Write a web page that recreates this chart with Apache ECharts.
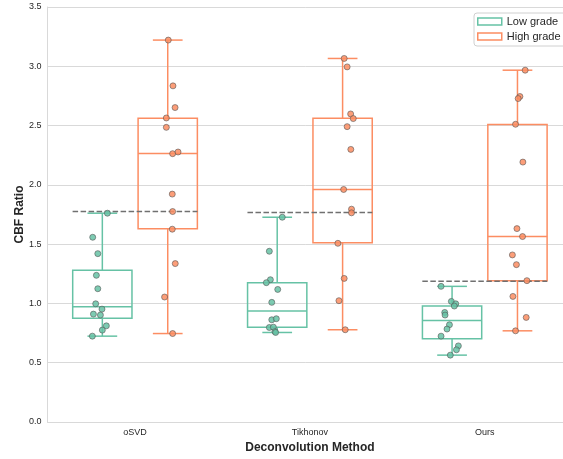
<!DOCTYPE html>
<html>
<head>
<meta charset="utf-8">
<script src="https://cdn.jsdelivr.net/npm/echarts@6/dist/echarts.min.js"></script>
<style>
html,body{margin:0;padding:0;background:#fff;}
#chart{width:563px;height:459px;}
</style>
</head>
<body>
<div id="chart"></div>
<script>
// ---- data ----
const categories = ['oSVD', 'Tikhonov', 'Ours'];
const yTicks = [0, 0.5, 1, 1.5, 2, 2.5, 3, 3.5];

// box stats: [whisker low, Q1, median, Q3, whisker high]
const lowBoxes = [
  [0.724, 0.876, 0.972, 1.279, 1.761],
  [0.755, 0.800, 0.936, 1.175, 1.727],
  [0.564, 0.702, 0.857, 0.978, 1.144]
];
const highBoxes = [
  [0.746, 1.629, 2.265, 2.561, 3.221],
  [0.778, 1.511, 1.961, 2.561, 3.066],
  [0.769, 1.192, 1.564, 2.508, 2.967]
];
// dashed threshold per method
const thresholds = [1.775, 1.766, 1.186];

// individual points (values) and horizontal jitter (in category units)
const lowOSVD = [1.761, 1.558, 1.420, 1.237, 1.124, 0.997, 0.952, 0.910, 0.902, 0.811, 0.775, 0.724];
const lowOSVDJit = [0.029, -0.055, -0.026, -0.034, -0.026, -0.038, -0.002, -0.051, -0.011, 0.023, 0.000, -0.057];
const highOSVD = [3.221, 2.835, 2.652, 2.564, 2.485, 2.263, 2.277, 1.922, 1.775, 1.626, 1.336, 1.054, 0.746];
const highOSVDJit = [0.003, 0.030, 0.042, -0.008, -0.008, 0.028, 0.059, 0.026, 0.028, 0.026, 0.043, -0.018, 0.028];
const lowTikh = [1.727, 1.440, 1.200, 1.175, 1.118, 1.009, 0.862, 0.871, 0.797, 0.800, 0.763, 0.755];
const lowTikhJit = [0.029, -0.045, -0.039, -0.062, 0.003, -0.031, -0.031, -0.005, -0.045, -0.022, -0.013, -0.009];
const highTikh = [3.066, 2.995, 2.598, 2.559, 2.491, 2.299, 1.961, 1.795, 1.764, 1.507, 1.211, 1.023, 0.778];
const highTikhJit = [0.009, 0.026, 0.046, 0.061, 0.026, 0.047, 0.006, 0.051, 0.051, -0.027, 0.009, -0.021, 0.015];
const lowOurs = [1.144, 1.017, 0.997, 0.978, 0.924, 0.902, 0.820, 0.784, 0.724, 0.642, 0.609, 0.564];
const lowOursJit = [-0.063, -0.004, 0.021, 0.013, -0.042, -0.040, -0.015, -0.029, -0.063, 0.036, 0.025, -0.010];
const highOurs = [2.967, 2.745, 2.728, 2.511, 2.192, 1.631, 1.564, 1.409, 1.327, 1.192, 1.059, 0.882, 0.769];
const highOursJit = [0.044, 0.014, 0.004, -0.011, 0.031, -0.003, 0.029, -0.029, -0.006, 0.054, -0.026, 0.050, -0.011];

// ---- styling / layout ----
const LOW_COLOR = '#66c2a5';
const HIGH_COLOR = '#fc8d62';
const OFFSET = 0.187;   // box centre offset from category centre (fraction of band)
const BOX_HALF = 0.1695;
const CAP_HALF = 0.085;
const THR_HALF = 0.357;
const TEXT = '#262626';
const GRIDC = '#d9d9d9';
const FONT = '"Liberation Sans", Arial, sans-serif';

function boxRender(off, color) {
  return function (params, api) {
    const cat = api.value(0);
    const band = api.size([1, 0])[0];
    const cx = api.coord([cat, 0])[0] + off * band;
    const y = [1, 2, 3, 4, 5].map(i => api.coord([cat, api.value(i)])[1]);
    const hw = BOX_HALF * band, ch = CAP_HALF * band;
    const st = { stroke: color, lineWidth: 1.5, fill: null };
    return {
      type: 'group',
      children: [
        { type: 'line', shape: { x1: cx, y1: y[0], x2: cx, y2: y[1] }, style: st },
        { type: 'line', shape: { x1: cx, y1: y[3], x2: cx, y2: y[4] }, style: st },
        { type: 'line', shape: { x1: cx - ch, y1: y[0], x2: cx + ch, y2: y[0] }, style: st },
        { type: 'line', shape: { x1: cx - ch, y1: y[4], x2: cx + ch, y2: y[4] }, style: st },
        { type: 'rect', shape: { x: cx - hw, y: y[3], width: 2 * hw, height: y[1] - y[3] }, style: { stroke: color, lineWidth: 1.5, fill: 'rgba(0,0,0,0)' } },
        { type: 'line', shape: { x1: cx - hw, y1: y[2], x2: cx + hw, y2: y[2] }, style: st }
      ]
    };
  };
}

function thrRender(params, api) {
  const cat = api.value(0);
  const band = api.size([1, 0])[0];
  const p = api.coord([cat, api.value(1)]);
  return {
    type: 'line',
    shape: { x1: p[0] - THR_HALF * band, y1: p[1], x2: p[0] + THR_HALF * band, y2: p[1] },
    style: { stroke: '#707070', lineWidth: 1.5, lineDash: [5.5, 2.5] }
  };
}

function points(vals, jit, cat, sign) {
  return vals.map((v, i) => [cat + sign * OFFSET + jit[i], v]);
}

const lowPts = [].concat(points(lowOSVD, lowOSVDJit, 0, -1), points(lowTikh, lowTikhJit, 1, -1), points(lowOurs, lowOursJit, 2, -1));
const highPts = [].concat(points(highOSVD, highOSVDJit, 0, 1), points(highTikh, highTikhJit, 1, 1), points(highOurs, highOursJit, 2, 1));

const chart = echarts.init(document.getElementById('chart'), null, { renderer: 'canvas' });
chart.setOption({
  animation: false,
  backgroundColor: '#fff',
  textStyle: { fontFamily: FONT },
  grid: { left: 47.6, top: 7, width: 524.6, height: 415, containLabel: false, outerBoundsMode: 'none' },
  legend: {
    orient: 'vertical',
    left: 474, top: 13,
    padding: [3, 12, 4, 3],
    itemWidth: 24, itemHeight: 7, itemGap: 4,
    backgroundColor: '#fff',
    borderColor: '#d0d0d0', borderWidth: 1, borderRadius: 3,
    textStyle: { fontSize: 11, color: TEXT, fontFamily: FONT },
    data: [
      { name: 'Low grade', icon: 'rect', itemStyle: { color: '#fff', borderColor: LOW_COLOR, borderWidth: 1.5 } },
      { name: 'High grade', icon: 'rect', itemStyle: { color: '#fff', borderColor: HIGH_COLOR, borderWidth: 1.5 } }
    ]
  },
  xAxis: [
    {
      type: 'category', data: categories, boundaryGap: true,
      axisLine: { show: true, onZero: false, lineStyle: { color: GRIDC, width: 1 } },
      axisTick: { show: false },
      axisLabel: { fontSize: 9, color: TEXT, margin: 6, fontFamily: FONT },
      splitLine: { show: false },
      name: 'Deconvolution Method', nameLocation: 'middle', nameGap: 20, nameMoveOverlap: false,
      nameTextStyle: { fontSize: 12, fontWeight: 'bold', color: TEXT, fontFamily: FONT }
    },
    { type: 'value', min: -0.5, max: 2.5, show: false }
  ],
  yAxis: {
    type: 'value', min: 0, max: 3.5, interval: 0.5,
    axisLine: { show: true, onZero: false, lineStyle: { color: GRIDC, width: 1 } },
    axisTick: { show: false },
    axisLabel: { fontSize: 9, color: TEXT, margin: 6, fontFamily: FONT, formatter: v => v.toFixed(1) },
    splitLine: { show: true, lineStyle: { color: GRIDC, width: 1 } },
    name: 'CBF Ratio', nameLocation: 'middle', nameGap: 22, nameMoveOverlap: false,
    nameTextStyle: { fontSize: 12, fontWeight: 'bold', color: TEXT, fontFamily: FONT }
  },
  series: [
    {
      name: 'Low grade', type: 'custom', xAxisIndex: 0,
      itemStyle: { color: LOW_COLOR },
      encode: { x: 0, y: [1, 2, 3, 4, 5] },
      renderItem: boxRender(-OFFSET, LOW_COLOR),
      data: lowBoxes.map((b, i) => [i].concat(b)), z: 2
    },
    {
      name: 'High grade', type: 'custom', xAxisIndex: 0,
      itemStyle: { color: HIGH_COLOR },
      encode: { x: 0, y: [1, 2, 3, 4, 5] },
      renderItem: boxRender(OFFSET, HIGH_COLOR),
      data: highBoxes.map((b, i) => [i].concat(b)), z: 2
    },
    {
      name: 'threshold', type: 'custom', xAxisIndex: 0,
      encode: { x: 0, y: 1 },
      renderItem: thrRender,
      data: thresholds.map((t, i) => [i, t]), z: 3
    },
    {
      name: 'Low grade', type: 'scatter', xAxisIndex: 1,
      symbolSize: 6,
      itemStyle: { color: LOW_COLOR, opacity: 0.85, borderColor: '#555', borderWidth: 0.7 },
      data: lowPts, z: 4
    },
    {
      name: 'High grade', type: 'scatter', xAxisIndex: 1,
      symbolSize: 6,
      itemStyle: { color: HIGH_COLOR, opacity: 0.85, borderColor: '#555', borderWidth: 0.7 },
      data: highPts, z: 4
    }
  ]
});
</script>
</body>
</html>
